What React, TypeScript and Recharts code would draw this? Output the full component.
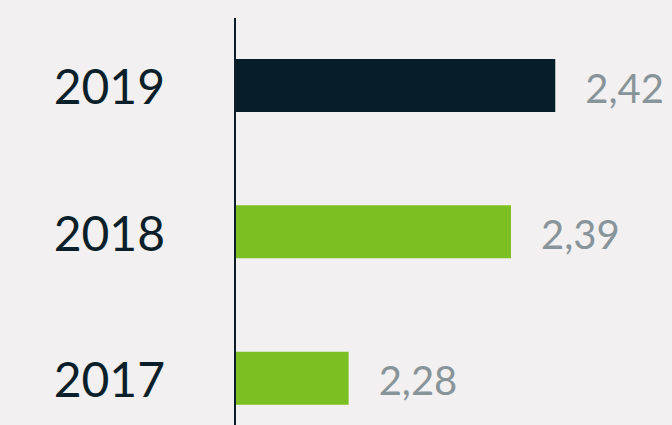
import React from "react";
import { BarChart, Bar, XAxis, YAxis, Cell, LabelList } from "recharts";

const years = ["2019", "2018", "2017"];
const values = [2.42, 2.39, 2.28];
const barColors = ["#061e29", "#7bbf22", "#7bbf22"];

const data = years.map((y, i) => ({ year: y, value: values[i] }));

const fmt = (v: number) => v.toFixed(2).replace(".", ",");

const YearTick = (props: any) => {
  const { x, y, payload } = props;
  return (
    <text
      x={x}
      y={y}
      dy={19}
      textAnchor="end"
      fontFamily="Lato"
      fontSize={48}
      fill="#0b1f2a"
    >
      {payload.value}
    </text>
  );
};

const ValueLabel = (props: any) => {
  const { x, y, width, height, value } = props;
  return (
    <text
      x={x + width + 30}
      y={y + height / 2}
      dy={17}
      textAnchor="start"
      fontFamily="Lato"
      fontSize={40}
      fill="#87949a"
    >
      {fmt(value)}
    </text>
  );
};

export default function App() {
  return (
    <div
      style={{
        position: "absolute",
        left: 0,
        top: 0,
        width: 672,
        height: 425,
        overflow: "hidden",
        background: "#f2f0f0",
      }}
    >
      <BarChart
        width={672}
        height={451}
        data={data}
        layout="vertical"
        margin={{ top: 18, right: 71, bottom: 0, left: 0 }}
      >
        <XAxis type="number" domain={[2.203, 2.451]} hide allowDataOverflow />
        <YAxis
          type="category"
          dataKey="year"
          width={235}
          tickSize={0}
          tickMargin={70}
          tickLine={false}
          axisLine={{ stroke: "#0b1f2a", strokeWidth: 2 }}
          padding={{ top: -6, bottom: 0 }}
          tick={<YearTick />}
        />
        <Bar dataKey="value" barSize={53} isAnimationActive={false}>
          {data.map((d, i) => (
            <Cell key={d.year} fill={barColors[i]} />
          ))}
          <LabelList dataKey="value" content={<ValueLabel />} />
        </Bar>
      </BarChart>
    </div>
  );
}
